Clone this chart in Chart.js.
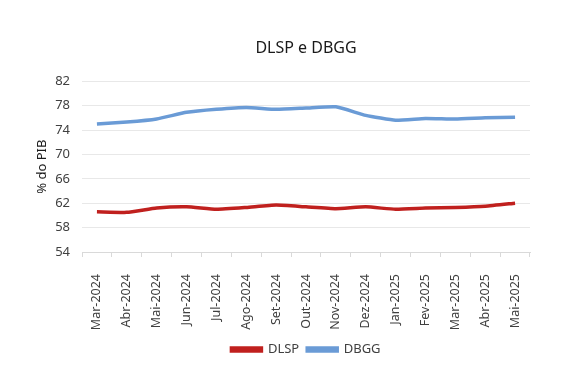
<!DOCTYPE html>
<html>
<head>
<meta charset="utf-8">
<script src="https://cdn.jsdelivr.net/npm/chart.js@4"></script>
<style>
  html, body { margin:0; padding:0; background:#fff; }
  #wrap { width:567px; height:366px; position:relative; }
</style>
</head>
<body>
<div id="wrap"><canvas id="chart"></canvas></div>
<script>
const MESES = ["Mar-2024","Abr-2024","Mai-2024","Jun-2024","Jul-2024","Ago-2024","Set-2024",
  "Out-2024","Nov-2024","Dez-2024","Jan-2025","Fev-2025","Mar-2025","Abr-2025","Mai-2025"];
const DLSP = [60.6,60.5,61.2,61.4,61.0,61.3,61.7,61.4,61.1,61.4,61.0,61.2,61.3,61.5,62.0];
const DBGG = [75.0,75.3,75.8,76.9,77.4,77.7,77.4,77.6,77.8,76.4,75.6,75.9,75.8,76.0,76.1];
const Y_TICKS = [54,58,62,66,70,74,78,82];

const FONT = "'Noto Sans',sans-serif";
const TXT = "#404040";

// titulo e legenda centrados na area do grafico (como no Excel)
const centerOnPlot = {
  id: "centerOnPlot",
  afterLayout(chart){
    const a = chart.chartArea;
    [chart.titleBlock, chart.legend].forEach(b => {
      if (!b) return;
      b.left = a.left; b.right = a.right; b.width = a.right - a.left;
    });
  }
};

const ctx = document.getElementById("chart").getContext("2d");
new Chart(ctx, {
  type: "line",
  data: {
    labels: MESES,
    datasets: [
      { label:"DLSP", data:DLSP, borderColor:"#c0201e", backgroundColor:"#c0201e",
        borderWidth:3.5, pointRadius:0, tension:0.15 },
      { label:"DBGG", data:DBGG, borderColor:"#6a9bd6", backgroundColor:"#6a9bd6",
        borderWidth:3.5, pointRadius:0, tension:0.15 }
    ]
  },
  plugins: [centerOnPlot],
  options: {
    responsive: true,
    maintainAspectRatio: false,
    animation: false,
    layout: { padding: { left: 34, right: 37, top: 39, bottom: 0 } },
    plugins: {
      title: {
        display: true, text: "DLSP e DBGG", color: "#1a1a1a",
        font: { family: FONT, size: 16, weight: "normal" }, padding: { top: 0, bottom: 23 }
      },
      legend: {
        position: "bottom",
        labels: { color: TXT, font: { family: FONT, size: 13 }, boxWidth: 30, boxHeight: 3, padding: 8 }
      },
      tooltip: { enabled: false }
    },
    scales: {
      x: {
        offset: true,
        grid: { offset: true, drawOnChartArea: false, drawTicks: true, tickLength: 5, color: "#d9d9d9" },
        border: { color: "#d9d9d9" },
        ticks: { color: TXT, font: { family: FONT, size: 12.5 }, padding: 17,
                 maxRotation: 90, minRotation: 90, autoSkip: false },
        afterFit: ax => { ax.height = 83; }
      },
      y: {
        min: 54, max: 82,
        afterBuildTicks: ax => { ax.ticks = Y_TICKS.map(v => ({ value: v })); },
        afterFit: ax => { ax.width = 48; },
        grid: { color: "#e8e8e8", drawTicks: false },
        border: { display: false },
        ticks: { color: TXT, font: { family: FONT, size: 13 }, padding: 12 },
        title: { display: true, text: "% do PIB", color: "#1a1a1a", font: { family: FONT, size: 13 },
                 padding: { top: 0, bottom: 4 } }
      }
    }
  }
});
</script>
</body>
</html>
